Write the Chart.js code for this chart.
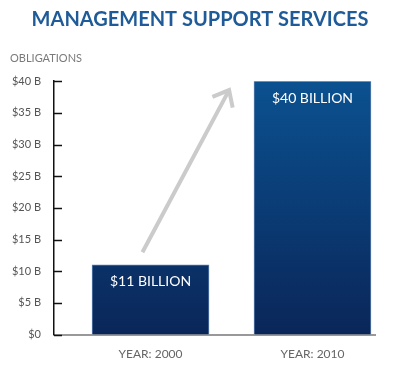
<!DOCTYPE html>
<html>
<head>
<meta charset="utf-8">
<script src="https://cdn.jsdelivr.net/npm/chart.js@4"></script>
<style>
  html, body { margin: 0; padding: 0; background: #fff; }
  #wrap { width: 400px; height: 365px; }
</style>
</head>
<body>
<div id="wrap"><canvas id="chart"></canvas></div>
<script>
const years = ["YEAR: 2000", "YEAR: 2010"];
const obligations = [11, 40];
const barLabels = ["$11 BILLION", "$40 BILLION"];
const yTickValues = [0, 5, 10, 15, 20, 25, 30, 35, 40];

// dessine les petites graduations, les textes des barres et la flèche
const extras = {
    id: "extras",
    afterDatasetsDraw(chart) {
        const ctx = chart.ctx;
        const xs = chart.scales.x;
        const ys = chart.scales.y;
        const left = chart.chartArea.left;

        ctx.save();
        ctx.strokeStyle = "#111";
        ctx.lineWidth = 1.5;
        yTickValues.forEach(v => {
            const py = Math.round(ys.getPixelForValue(v)) + 0.5;
            ctx.beginPath();
            ctx.moveTo(left, py);
            ctx.lineTo(left + 8, py);
            ctx.stroke();
        });

        // flèche grise
        const x1 = xs.getPixelForValue(-0.05), y1 = ys.getPixelForValue(13);
        const x2 = xs.getPixelForValue(0.485), y2 = ys.getPixelForValue(38.6);
        const ang = Math.atan2(y2 - y1, x2 - x1);
        ctx.strokeStyle = "#cbcbcb";
        ctx.lineWidth = 4;
        ctx.lineCap = "butt";
        ctx.beginPath();
        ctx.moveTo(x1, y1);
        ctx.lineTo(x2 - Math.cos(ang) * 2, y2 - Math.sin(ang) * 2);
        ctx.stroke();
        ctx.beginPath();
        const h = 18;
        ctx.moveTo(x2 + Math.cos(ang + 2.45) * h, y2 + Math.sin(ang + 2.45) * h);
        ctx.lineTo(x2, y2);
        ctx.lineTo(x2 + Math.cos(ang - 2.45) * h, y2 + Math.sin(ang - 2.45) * h);
        ctx.stroke();

        // textes dans les barres
        ctx.fillStyle = "#ffffff";
        ctx.font = "14px Lato";
        ctx.textAlign = "center";
        ctx.textBaseline = "middle";
        chart.getDatasetMeta(0).data.forEach((bar, i) => {
            ctx.fillText(barLabels[i], bar.x, bar.y + 17);
        });
        ctx.restore();
    }
};

new Chart(document.getElementById("chart"), {
    type: "bar",
    data: {
        datasets: [{
            data: obligations.map((v, i) => ({ x: i, y: v })),
            barThickness: 117,
            borderWidth: 1,
            borderColor: "#5b7fae",
            borderSkipped: "bottom",
            backgroundColor: ctx => {
                const area = ctx.chart.chartArea;
                if (!area) return "#0b3f78";
                const g = ctx.chart.ctx.createLinearGradient(0, area.top, 0, area.bottom);
                g.addColorStop(0, "#0b5190");
                g.addColorStop(1, "#0a2659");
                return g;
            }
        }]
    },
    options: {
        responsive: true,
        maintainAspectRatio: false,
        animation: false,
        layout: { padding: { left: 10, right: 10, bottom: 0 } },
        plugins: {
            legend: { display: false },
            tooltip: { enabled: false },
            title: {
                display: true,
                text: "MANAGEMENT SUPPORT SERVICES",
                color: "#1f5b98",
                font: { family: "Lato", size: 20, weight: "bold" },
                padding: { top: 8, bottom: 20 }
            },
            subtitle: {
                display: true,
                text: "OBLIGATIONS",
                align: "start",
                color: "#7a7a7a",
                font: { family: "Lato", size: 11 },
                padding: { top: 0, bottom: 16 }
            }
        },
        scales: {
            x: {
                type: "linear",
                offset: false,
                min: -0.596,
                max: 1.386,
                afterBuildTicks: s => { s.ticks = years.map((_, i) => ({ value: i })); },
                ticks: {
                    color: "#666",
                    font: { family: "Lato", size: 12 },
                    padding: 4,
                    callback: v => years[v]
                },
                grid: { display: false, offset: false },
                border: { display: true, color: "#999", width: 2 }
            },
            y: {
                min: 0,
                max: 40,
                afterBuildTicks: s => { s.ticks = yTickValues.map(v => ({ value: v })); },
                afterFit: s => { s.width = 44; },
                ticks: {
                    color: "#555",
                    font: { family: "Lato", size: 11 },
                    padding: 5,
                    callback: v => v === 0 ? "$0" : "$" + v + " B"
                },
                grid: { display: false },
                border: { display: true, color: "#111", width: 1.5 }
            },
            // axe vide à droite pour garder la marge
            y2: {
                position: "right",
                display: true,
                afterFit: s => { s.width = 15; },
                ticks: { display: false },
                grid: { display: false },
                border: { display: false }
            }
        }
    },
    plugins: [extras]
});
</script>
</body>
</html>
